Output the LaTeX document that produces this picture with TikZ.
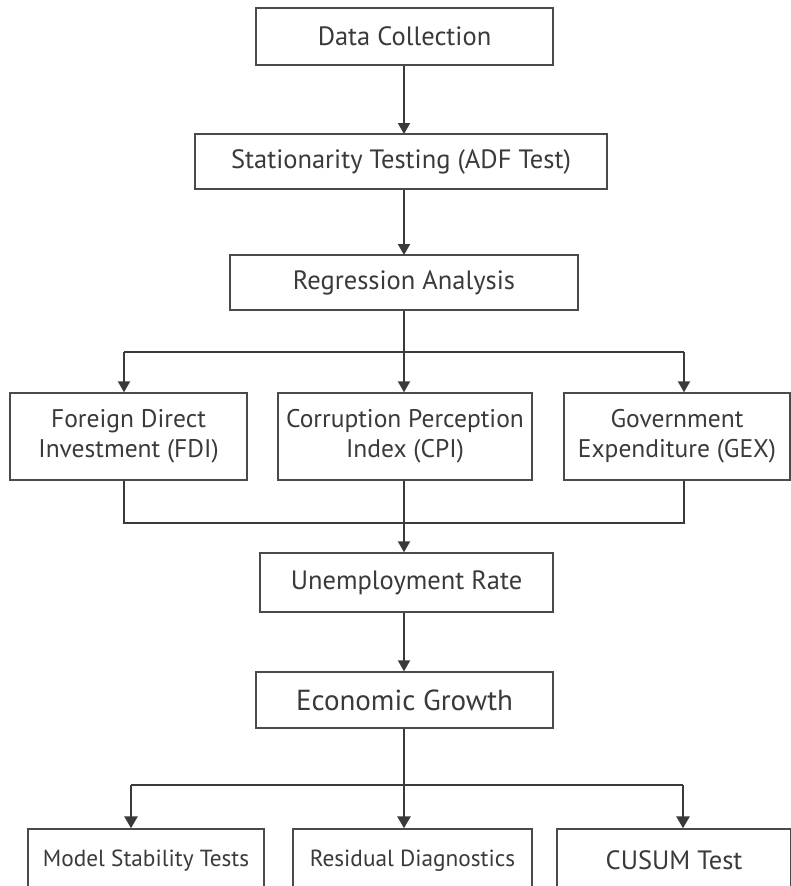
\documentclass[tikz,border=0pt]{standalone}
\usepackage{fontspec}
\setmainfont{PT Sans}
\usetikzlibrary{arrows.meta}
\definecolor{ink}{HTML}{3A3A3A}
\definecolor{edge}{HTML}{4A4A4A}
\tikzset{
  box/.style={draw=edge, line width=1.4pt, fill=white, align=center, text=ink, inner sep=0pt, font=\fontsize{26.5}{30}\selectfont},
  midbox/.style={box, font=\fontsize{25.5}{30}\selectfont},
  lowbox/.style={box, font=\fontsize{23.3}{28}\selectfont},
  conn/.style={draw=ink, line width=2pt},
  arr/.style={conn, -{Triangle[width=12pt,length=11pt]}},
  connb/.style={draw=ink, line width=2.8pt},
  arrb/.style={connb, -{Triangle[width=13pt,length=12pt]}},
}
\begin{document}
\begin{tikzpicture}[x=1pt,y=-1pt]
\useasboundingbox (0,0) rectangle (791,886);
\fill[white] (0,0) rectangle (791,886);
\clip (0,0) rectangle (791,886);
\node[box, minimum width=297pt, minimum height=57pt] (dc) at (404.5,36.5) {Data Collection};
\node[box, minimum width=412pt, minimum height=55pt] (st) at (401,161.5) {Stationarity Testing (ADF Test)};
\node[box, minimum width=348pt, minimum height=55pt] (ra) at (404,282.5) {Regression Analysis};
\node[midbox, minimum width=237pt, minimum height=87pt] (fdi) at (128.5,436.5) {Foreign Direct\\Investment (FDI)};
\node[midbox, minimum width=254pt, minimum height=87pt] (cpi) at (405,436.5) {Corruption Perception\\Index (CPI)};
\node[midbox, minimum width=226pt, minimum height=87pt] (gex) at (677,436.5) {Government\\Expenditure (GEX)};
\node[box, minimum width=293pt, minimum height=59pt] (ue) at (406.5,582.5) {Unemployment Rate};
\node[box, minimum width=297pt, minimum height=56pt, font=\fontsize{29}{33}\selectfont] (eg) at (404.5,700) {Economic Growth};
\node[lowbox, minimum width=236pt, minimum height=64pt] (ms) at (146,861) {Model Stability Tests};
\node[lowbox, minimum width=239pt, minimum height=64pt] (rd) at (412.5,861) {Residual Diagnostics};
\node[box, minimum width=234pt, minimum height=62pt] (cu) at (674,860) {CUSUM Test};
% top chain
\draw[arr] (dc.south -| 404,0) -- (404,134);
\draw[arr] (st.south -| 404,0) -- (404,255);
% split to three
\coordinate (s0) at (404,352);
\coordinate (s1) at (124,352);
\coordinate (s3) at (684,352);
\draw[conn] (ra.south -| s0) -- (s0);
\draw[conn] (s1) -- (s3);
\draw[arr] (s1) -- (s1 |- fdi.north);
\draw[arr] (s0) -- (s0 |- cpi.north);
\draw[arr] (s3) -- (s3 |- gex.north);
% merge
\coordinate (m1) at (124,523);
\coordinate (m3) at (684,523);
\draw[conn] (fdi.south -| m1) -- (m1) -- (m3) -- (gex.south -| m3);
\draw[arr] (cpi.south -| s0) -- (s0 |- ue.north);
\draw[arr] (ue.south -| s0) -- (s0 |- eg.north);
% bottom split
\coordinate (t0) at (404,785);
\coordinate (t1) at (131,785);
\coordinate (t3) at (683,785);
\draw[connb] (eg.south -| t0) -- (t0);
\draw[connb] (t1) -- (t3);
\draw[arrb] (t1) -- (t1 |- ms.north);
\draw[arrb] (t0) -- (t0 |- rd.north);
\draw[arrb] (t3) -- (t3 |- cu.north);
\end{tikzpicture}
\end{document}
